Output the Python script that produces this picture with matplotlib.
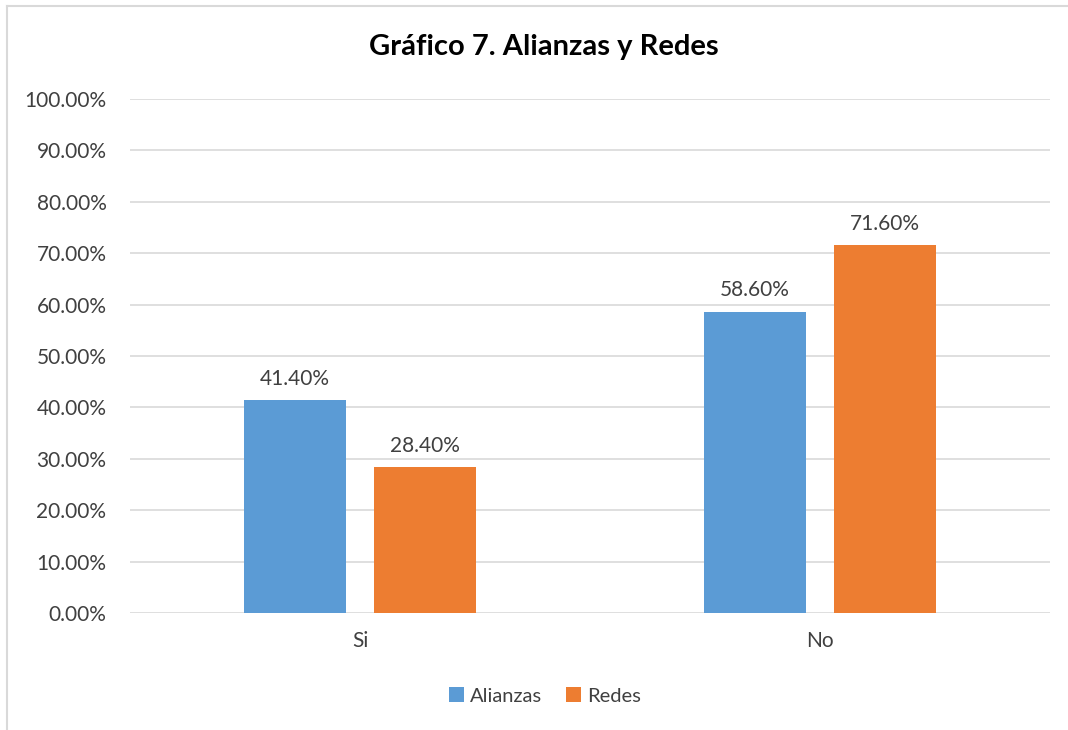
import matplotlib
matplotlib.use("Agg")
import matplotlib.pyplot as plt
import numpy as np
from matplotlib.lines import Line2D

# data
categories = ["Si", "No"]
alianzas = [41.40, 58.60]
redes = [28.40, 71.60]
series_names = ["Alianzas", "Redes"]
yticks = [0, 10, 20, 30, 40, 50, 60, 70, 80, 90, 100]

blue = "#5B9BD5"
orange = "#ED7D31"
txt = "#404040"

plt.rcParams['font.family'] = ['Lato', 'DejaVu Sans']

fig = plt.figure(figsize=(10.68, 7.3), dpi=100)
ax = fig.add_axes([130/1068, 1 - 613/730, 920/1068, 514/730])

# chart border: only left and top edges show in the reference
bx, by = 7/1068, 1 - 6/730
fig.lines.append(Line2D([bx, bx], [0, by], transform=fig.transFigure,
                        color="#D9D9D9", linewidth=1.5))
fig.lines.append(Line2D([bx, 1], [by, by], transform=fig.transFigure,
                        color="#D9D9D9", linewidth=1.5))

x = np.arange(len(categories))
w = 0.222
off = 0.142
b1 = ax.bar(x - off, alianzas, w, color=blue, label=series_names[0], zorder=3)
b2 = ax.bar(x + off, redes, w, color=orange, label=series_names[1], zorder=3)

for bars, vals in ((b1, alianzas), (b2, redes)):
    for b, v in zip(bars, vals):
        ax.text(b.get_x() + b.get_width()/2, v + 2.2, "%.2f%%" % v,
                ha="center", va="bottom", fontsize=15, color=txt)

ax.set_xlim(-0.5, 1.5)
ax.set_ylim(0, 100)
ax.set_yticks(yticks)
ax.set_yticklabels(["%.2f%%" % t for t in yticks])
ax.set_xticks(x)
ax.set_xticklabels(categories)
ax.tick_params(axis="both", length=0, labelsize=15, colors=txt)
ax.tick_params(axis="y", pad=17)
ax.tick_params(axis="x", pad=13)
ax.grid(axis="y", color="#D9D9D9", linewidth=1.2, zorder=0)
for s in ax.spines.values():
    s.set_visible(False)

fig.text(544/1068, 1 - 47/730, "Gráfico 7. Alianzas y Redes", ha="center", va="center",
         fontsize=21, fontweight="bold", color="#000000")

fig.legend(handles=[b1, b2], loc="center", bbox_to_anchor=(545/1068, 1 - 696/730),
           ncol=2, frameon=False, fontsize=14.5, handlelength=0.75, handleheight=0.75,
           handletextpad=0.3, columnspacing=1.2, labelcolor=txt)

fig.savefig("out.png", dpi=100)
